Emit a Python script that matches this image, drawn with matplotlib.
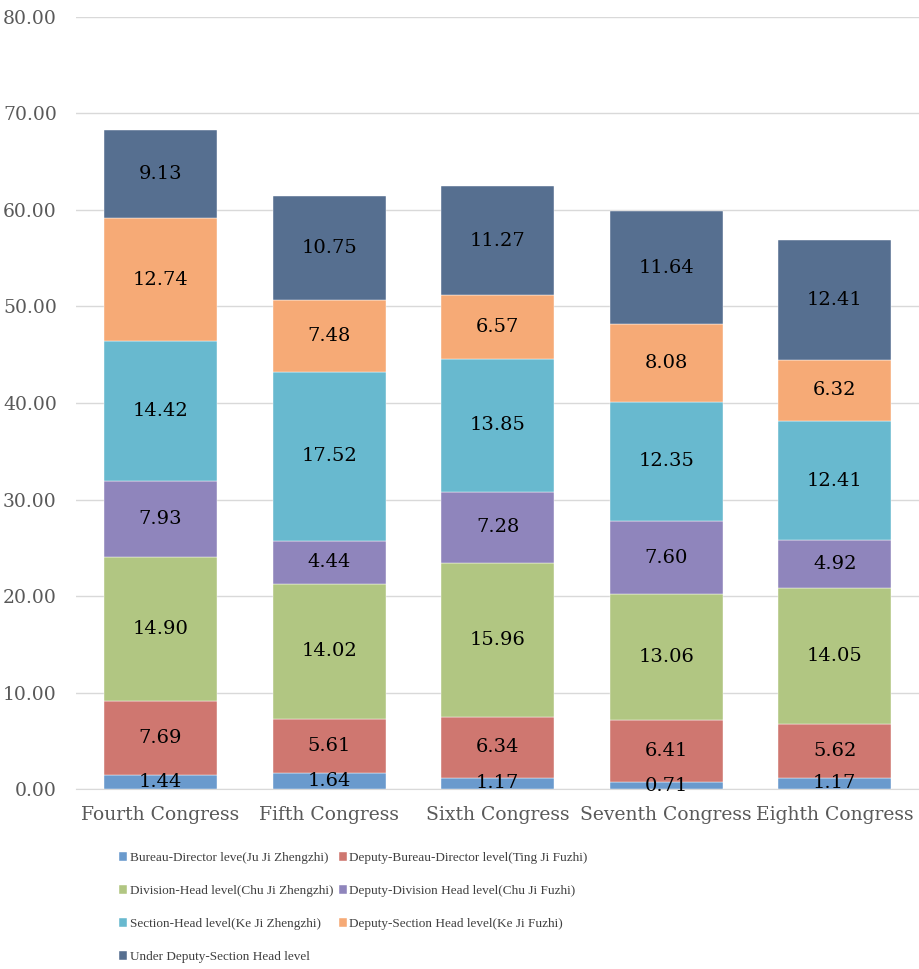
import numpy as np
import matplotlib
matplotlib.use("Agg")
import matplotlib.pyplot as plt

congresses = ["Fourth Congress", "Fifth Congress", "Sixth Congress",
              "Seventh Congress", "Eighth Congress"]

series_names = [
    "Bureau-Director leve(Ju Ji Zhengzhi)",
    "Deputy-Bureau-Director level(Ting Ji Fuzhi)",
    "Division-Head level(Chu Ji Zhengzhi)",
    "Deputy-Division Head level(Chu Ji Fuzhi)",
    "Section-Head level(Ke Ji Zhengzhi)",
    "Deputy-Section Head level(Ke Ji Fuzhi)",
    "Under Deputy-Section Head level",
]

bureau_director = [1.44, 1.64, 1.17, 0.71, 1.17]
deputy_bureau = [7.69, 5.61, 6.34, 6.41, 5.62]
division_head = [14.90, 14.02, 15.96, 13.06, 14.05]
deputy_division = [7.93, 4.44, 7.28, 7.60, 4.92]
section_head = [14.42, 17.52, 13.85, 12.35, 12.41]
deputy_section = [12.74, 7.48, 6.57, 8.08, 6.32]
under_deputy = [9.13, 10.75, 11.27, 11.64, 12.41]

colors = ["#6A9ACD", "#CF7770", "#B1C682", "#8F85BC",
          "#68B9CF", "#F6AA76", "#566F90"]

all_series = [bureau_director, deputy_bureau, division_head, deputy_division,
              section_head, deputy_section, under_deputy]

fig = plt.figure(figsize=(9.19, 9.69), dpi=100)
ax = fig.add_axes([0.083, 0.1857, 0.917, 0.7968])

x = np.arange(len(congresses))
bottom = np.zeros(len(congresses))
handles = []
for name, vals, col in zip(series_names, all_series, colors):
    vals = np.array(vals)
    b = ax.bar(x, vals, width=0.67, bottom=bottom, color=col, label=name,
               edgecolor="white", linewidth=0.3, zorder=3)
    handles.append(b)
    for xi, v, bt in zip(x, vals, bottom):
        ax.text(xi, bt + v / 2, f"{v:.2f}", ha="center", va="center",
                fontsize=14, family="DejaVu Serif", color="black", zorder=4)
    bottom += vals

ax.set_xlim(-0.5, 4.5)
ax.set_ylim(0, 80)
ax.set_yticks(np.arange(0, 81, 10))
ax.set_yticklabels([f"{t:.2f}" for t in np.arange(0, 81, 10)])
ax.set_xticks(x)
ax.set_xticklabels(congresses)
ax.yaxis.grid(True, color="#D9D9D9", linewidth=1, zorder=0)
for s in ["top", "right", "left"]:
    ax.spines[s].set_visible(False)
ax.spines["bottom"].set_color("#D9D9D9")
ax.tick_params(axis="both", length=0, labelsize=13.5, labelcolor="#595959")
ax.tick_params(axis="x", pad=12)
ax.tick_params(axis="y", pad=14)
for lbl in ax.get_xticklabels() + ax.get_yticklabels():
    lbl.set_family("DejaVu Serif")

# legend fills row by row in the reference, so reorder for column-major layout
order = [0, 2, 4, 6, 1, 3, 5]
fig.legend(handles=[handles[i] for i in order], loc="upper left",
           bbox_to_anchor=(0.117, 0.133), ncol=2, frameon=False,
           prop={"family": "Liberation Serif", "size": 9.5},
           handlelength=0.6, handleheight=0.6, handletextpad=0.2,
           columnspacing=0.4, labelspacing=1.6, labelcolor="#404040")

fig.savefig("out.png", dpi=100)
